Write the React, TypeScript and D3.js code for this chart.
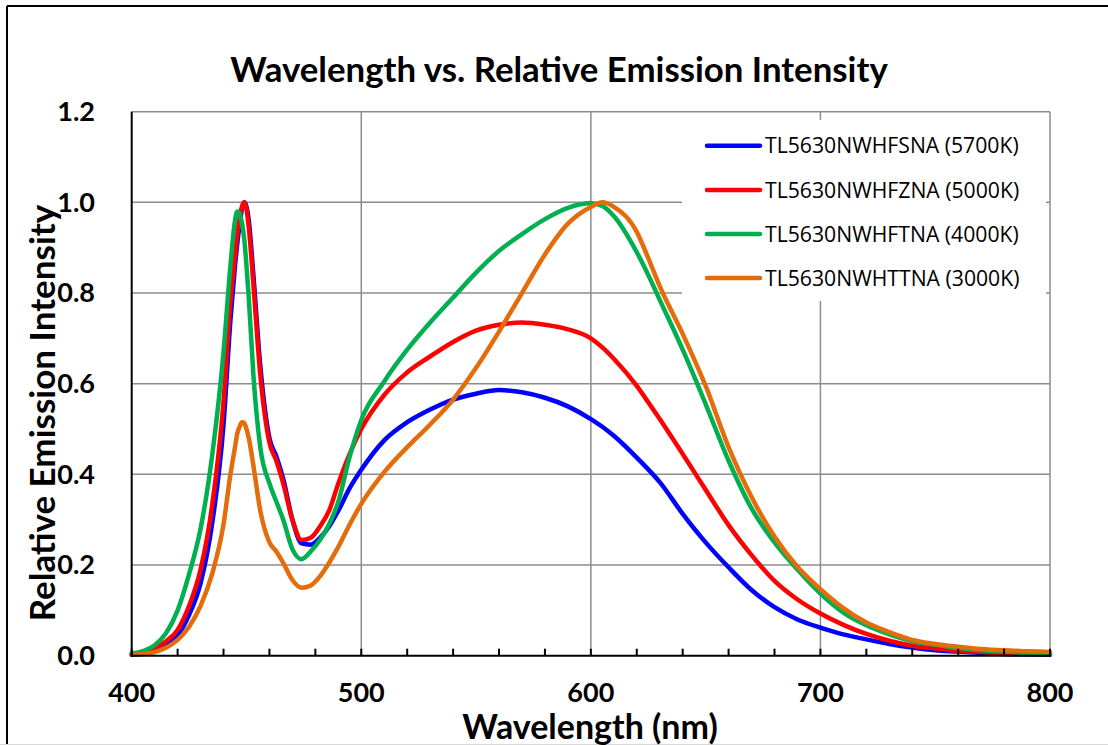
import React from "react";
import * as d3 from "d3";

const wavelengths = [400,405,410,415,420,425,430,435,440,443,445,446,447,448,449,450,451,453,456,460,463,466,470,474,478,482,486,490,495,500,510,520,530,540,550,560,570,580,590,600,605,610,620,625,630,640,650,660,670,680,690,700,710,720,730,740,750,760,770,780,790,800];

const series5700K = [0.002,0.005,0.012,0.025,0.045,0.09,0.16,0.29,0.51,0.74,0.86,0.91,0.95,0.985,1.0,0.99,0.96,0.84,0.64,0.48,0.44,0.39,0.30,0.248,0.245,0.26,0.285,0.32,0.37,0.41,0.475,0.515,0.543,0.565,0.578,0.586,0.581,0.569,0.55,0.522,0.505,0.485,0.437,0.411,0.383,0.313,0.25,0.195,0.145,0.107,0.08,0.062,0.047,0.036,0.026,0.018,0.012,0.009,0.006,0.004,0.003,0.002];

const series5000K = [0.003,0.007,0.017,0.032,0.057,0.11,0.19,0.33,0.56,0.78,0.88,0.93,0.965,0.99,1.0,0.985,0.945,0.82,0.62,0.47,0.43,0.38,0.30,0.255,0.26,0.285,0.32,0.38,0.446,0.50,0.575,0.625,0.66,0.692,0.717,0.73,0.735,0.73,0.72,0.70,0.68,0.655,0.595,0.559,0.522,0.445,0.366,0.288,0.222,0.165,0.124,0.093,0.068,0.048,0.033,0.022,0.016,0.011,0.008,0.005,0.004,0.003];

const series4000K = [0.005,0.01,0.023,0.05,0.10,0.18,0.28,0.44,0.67,0.86,0.96,0.98,0.975,0.955,0.92,0.86,0.79,0.62,0.46,0.38,0.34,0.30,0.235,0.213,0.23,0.255,0.29,0.34,0.44,0.52,0.605,0.675,0.735,0.79,0.845,0.893,0.93,0.963,0.988,0.998,0.992,0.97,0.89,0.84,0.785,0.675,0.555,0.43,0.325,0.25,0.19,0.137,0.095,0.067,0.047,0.032,0.024,0.017,0.012,0.009,0.006,0.005];

const series3000K = [0.002,0.004,0.008,0.018,0.035,0.064,0.11,0.18,0.29,0.40,0.46,0.49,0.505,0.515,0.513,0.50,0.48,0.42,0.32,0.25,0.23,0.205,0.167,0.15,0.155,0.175,0.205,0.24,0.29,0.335,0.405,0.46,0.51,0.565,0.635,0.715,0.80,0.885,0.953,0.99,1.0,0.99,0.935,0.877,0.815,0.71,0.595,0.46,0.35,0.263,0.196,0.147,0.105,0.073,0.052,0.035,0.026,0.02,0.015,0.012,0.01,0.008];

const seriesNames = ["TL5630NWHFSNA (5700K)", "TL5630NWHFZNA (5000K)", "TL5630NWHFTNA (4000K)", "TL5630NWHTTNA (3000K)"];
const seriesColors = ["#0000FF", "#FF0000", "#00B050", "#E46C0A"];
const seriesValues = [series5700K, series5000K, series4000K, series3000K];

const xTickLabels = [400, 500, 600, 700, 800];
const xMinorTicks = d3.range(400, 801, 20);
const yTickLabels = [0, 0.2, 0.4, 0.6, 0.8, 1.0, 1.2];

const W = 1108, H = 745;
const L = 131.7, R = 1050, T = 111.7, B = 655.7;
const FONT = "Lato, 'Open Sans', sans-serif";

export default function App() {
  const x = d3.scaleLinear().domain([400, 800]).range([L, R]);
  const y = d3.scaleLinear().domain([0, 1.2]).range([B, T]);
  const line = d3
    .line<number>()
    .x((_, i) => x(wavelengths[i]))
    .y((d) => y(d))
    .curve(d3.curveMonotoneX);

  const legendRows = [145.7, 190, 234, 278];
  const grid = "#8c8c8c";

  return (
    <svg width={W} height={H} style={{ position: "absolute", left: 0, top: 0, background: "#fff" }}>
      <rect x={0} y={0} width={W} height={H} fill="#fff" />
      {/* outer frame */}
      <line x1={7} y1={6} x2={W} y2={6} stroke="#000" strokeWidth={2} />
      <line x1={7} y1={6} x2={7} y2={H} stroke="#000" strokeWidth={2} />
      <line x1={0} y1={744.5} x2={W} y2={744.5} stroke="#d9d9d9" strokeWidth={1} />

      {/* title */}
      <text x={559} y={82} textAnchor="middle" fontFamily={FONT} fontWeight="bold" fontSize={34.8} fill="#000">
        Wavelength vs. Relative Emission Intensity
      </text>

      {/* grid */}
      {yTickLabels.slice(1).map((v) => (
        <line key={"gy" + v} x1={L} x2={R} y1={y(v)} y2={y(v)} stroke={grid} strokeWidth={1.5} />
      ))}
      {xTickLabels.slice(1).map((v) => (
        <line key={"gx" + v} x1={x(v)} x2={x(v)} y1={T} y2={B} stroke={grid} strokeWidth={1.5} />
      ))}

      {/* legend background */}
      <rect x={682} y={120} width={364} height={181} fill="#fff" />

      {/* series */}
      {seriesValues.map((vals, i) => (
        <path key={seriesNames[i]} d={line(vals) || ""} fill="none" stroke={seriesColors[i]} strokeWidth={4.5} strokeLinejoin="round" strokeLinecap="round" />
      ))}

      {/* axes */}
      <line x1={L} x2={L} y1={T} y2={B + 1} stroke="#000" strokeWidth={2} />
      <line x1={L - 1} x2={R + 1} y1={B} y2={B} stroke="#000" strokeWidth={2} />
      {xMinorTicks.map((v) => (
        <line key={"t" + v} x1={x(v)} x2={x(v)} y1={B} y2={B - 7} stroke="#000" strokeWidth={2} />
      ))}

      {/* tick labels */}
      {yTickLabels.map((v) => (
        <text key={"yl" + v} x={95} y={y(v)} dy="0.35em" textAnchor="end" fontFamily={FONT} fontWeight="bold" fontSize={27} fill="#000">
          {d3.format(".1f")(v)}
        </text>
      ))}
      {xTickLabels.map((v) => (
        <text key={"xl" + v} x={x(v)} y={702} textAnchor="middle" fontFamily={FONT} fontWeight="bold" fontSize={27} fill="#000">
          {v}
        </text>
      ))}

      {/* axis titles */}
      <text x={590} y={739} textAnchor="middle" fontFamily={FONT} fontWeight="bold" fontSize={34} fill="#000">
        Wavelength (nm)
      </text>
      <text transform="translate(55,413) rotate(-90)" textAnchor="middle" fontFamily={FONT} fontWeight="bold" fontSize={35} fill="#000">
        Relative Emission Intensity
      </text>

      {/* legend */}
      {seriesNames.map((name, i) => (
        <g key={"lg" + name}>
          <line x1={707} x2={760} y1={legendRows[i]} y2={legendRows[i]} stroke={seriesColors[i]} strokeWidth={4.5} strokeLinecap="round" />
          <text x={765} y={legendRows[i]} dy="0.36em" fontFamily="'Open Sans', 'Noto Sans', sans-serif" fontSize={21.2} fill="#000">
            {name}
          </text>
        </g>
      ))}
    </svg>
  );
}
